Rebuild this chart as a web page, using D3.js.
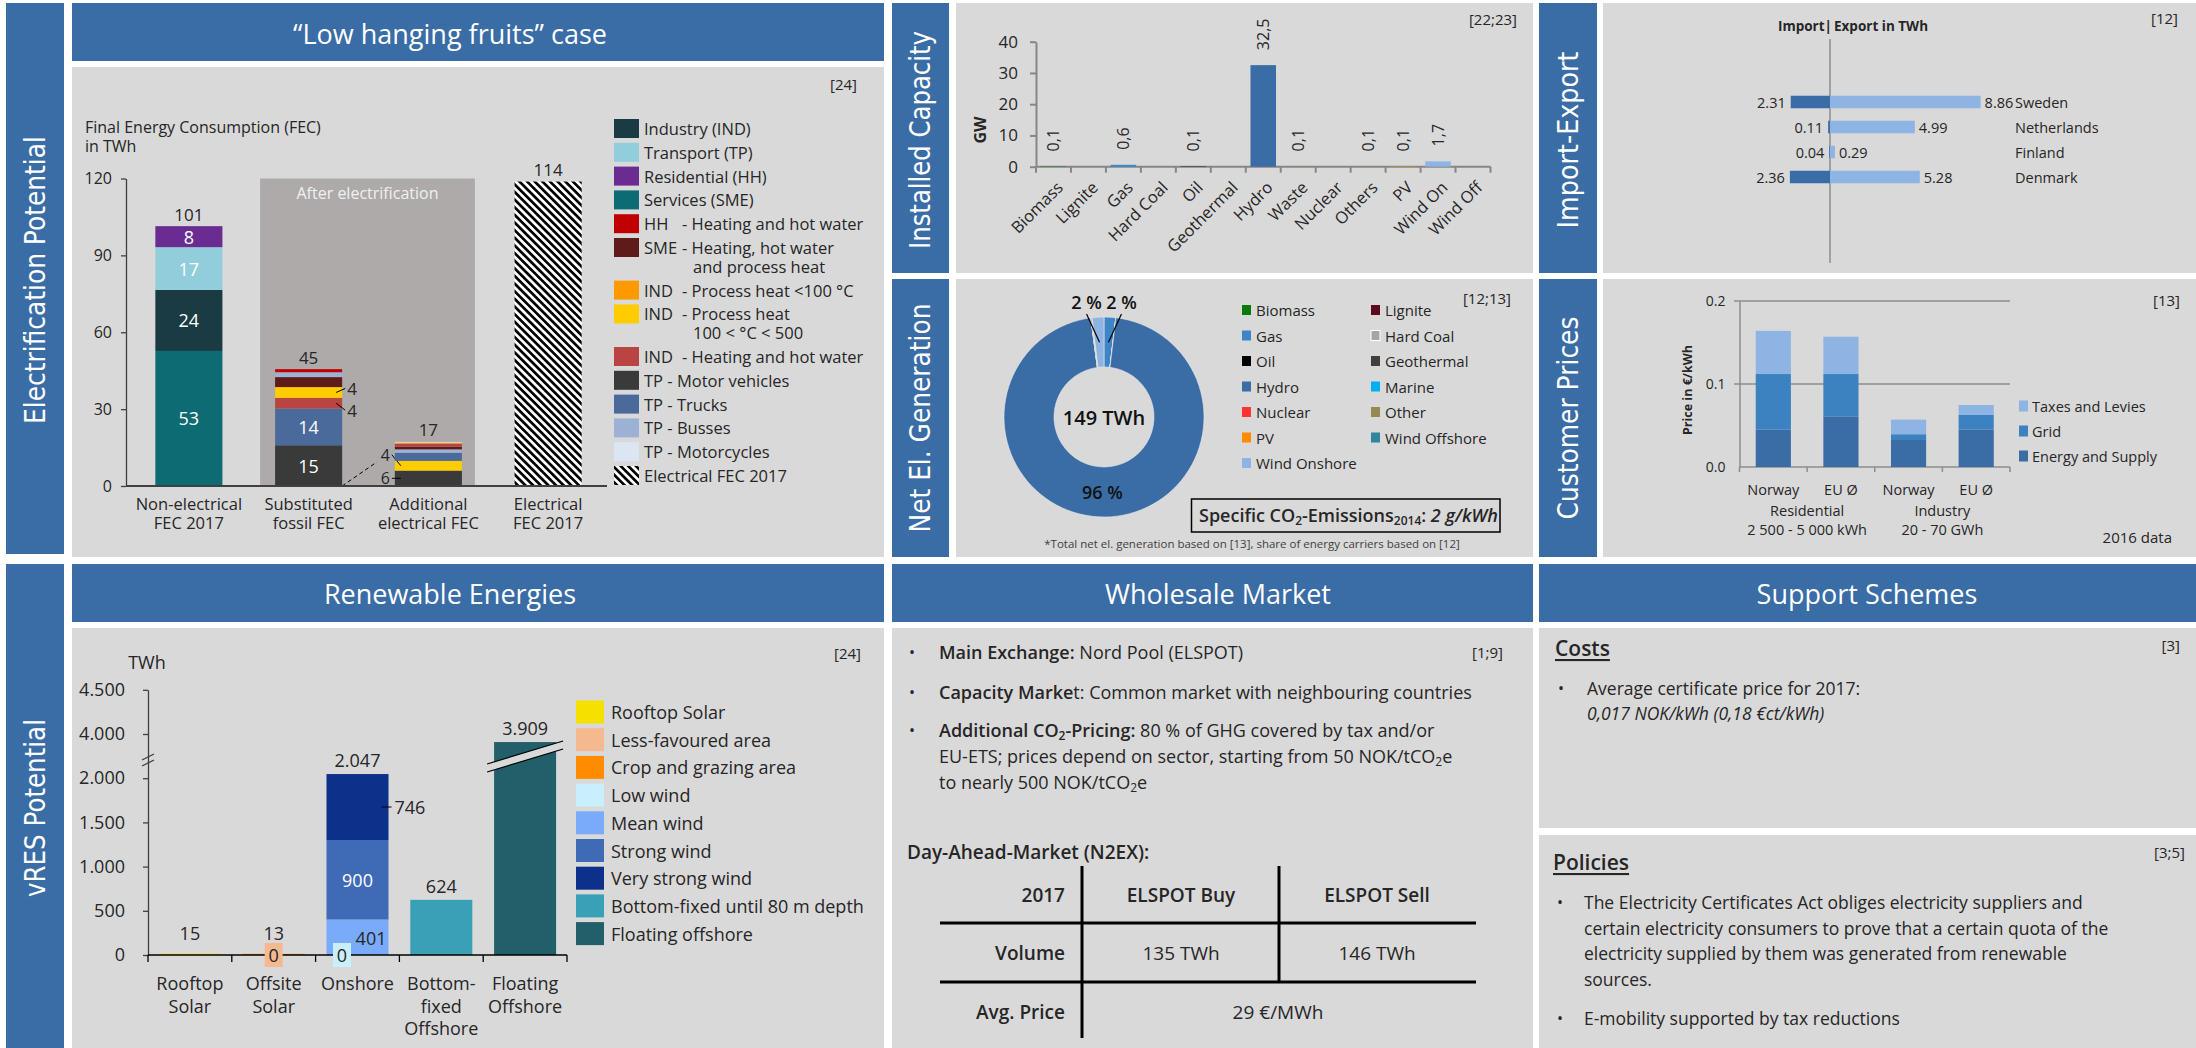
<!DOCTYPE html>
<html>
<head>
<meta charset="utf-8">
<title>Norway energy factsheet</title>
<script src="https://cdn.jsdelivr.net/npm/d3@7"></script>
<style>
  body { margin: 0; background: #ffffff; }
  svg text { font-family: "Open Sans", "Noto Sans", sans-serif; fill: #262626; }
</style>
</head>
<body>
<svg id="chart" width="2196" height="1048"></svg>
<script>
// ---------- data ----------

// Electrification potential (TWh)
const fecCategories = ["Non-electrical FEC 2017", "Substituted fossil FEC", "Additional electrical FEC", "Electrical FEC 2017"];
const fecCategoryLines = [["Non-electrical", "FEC 2017"], ["Substituted", "fossil FEC"], ["Additional", "electrical FEC"], ["Electrical", "FEC 2017"]];
const fecKeys = ["IND", "TP", "HH", "SME", "HH_heat", "SME_heat", "IND_lt100", "IND_100_500", "IND_heat", "TP_motor", "TP_trucks", "TP_busses", "TP_moto", "ELEC"];
const fecLegend = [
  ["Industry (IND)"], ["Transport (TP)"], ["Residential (HH)"], ["Services (SME)"],
  ["HH", "- Heating and hot water"], ["SME", "- Heating, hot water", "and process heat"],
  ["IND", "- Process heat <100 °C"], ["IND", "- Process heat", "100 < °C < 500"],
  ["IND", "- Heating and hot water"], ["TP - Motor vehicles"], ["TP - Trucks"], ["TP - Busses"],
  ["TP - Motorcycles"], ["Electrical FEC 2017"]
];
const fecStackKeys = [
  ["SME", "IND", "TP", "HH"],
  ["TP_motor", "TP_trucks", "IND_heat", "IND_100_500", "SME_heat", "TP_busses", "HH_heat"],
  ["TP_motor", "IND_100_500", "TP_trucks", "TP_busses", "SME_heat", "IND_heat", "IND_lt100", "TP_moto"],
  ["ELEC"]
];
const fecStackValues = [
  [52.7, 23.8, 16.7, 8.2],
  [15.9, 14.3, 4.2, 4.2, 3.9, 1.9, 1.2],
  [6.0, 3.8, 3.2, 1.3, 1.0, 1.2, 0.4, 0.3],
  [118.8]
];
const fecSegmentLabels = [["53", "24", "17", "8"], ["15", "14", "4", "4", "", "", ""], ["6", "4", "", "", "", "", "", ""], [""]];
const fecTotalLabels = ["101", "45", "17", "114"];
const fecTicks = [0, 30, 60, 90, 120];

// Installed capacity (GW)
const capCategories = ["Biomass", "Lignite", "Gas", "Hard Coal", "Oil", "Geothermal", "Hydro", "Waste", "Nuclear", "Others", "PV", "Wind On", "Wind Off"];
const capValues = [0.1, 0, 0.6, 0, 0.1, 0, 32.5, 0.1, 0, 0.1, 0.1, 1.7, 0];
const capTicks = [0, 10, 20, 30, 40];

// Import / export (TWh)
const ieCountries = ["Sweden", "Netherlands", "Finland", "Denmark"];
const ieImport = [2.31, 0.11, 0.04, 2.36];
const ieExport = [8.86, 4.99, 0.29, 5.28];

// Net electricity generation, share in %
const genCarriers = ["Biomass", "Lignite", "Gas", "Hard Coal", "Oil", "Geothermal", "Hydro", "Marine", "Nuclear", "Other", "PV", "Wind Offshore", "Wind Onshore"];
const genShares = [0, 0, 1.9, 0, 0, 0, 96.0, 0, 0, 0.2, 0, 0, 1.9];
const genTotalLabel = "149 TWh";

// Customer prices (EUR/kWh), 2016
const priceBars = ["Norway|Res", "EU Ø|Res", "Norway|Ind", "EU Ø|Ind"];
const priceBarLabels = ["Norway", "EU Ø", "Norway", "EU Ø"];
const priceGroups = [["Residential", "2 500 - 5 000 kWh"], ["Industry", "20 - 70 GWh"]];
const priceComponents = ["Energy and Supply", "Grid", "Taxes and Levies"];
const priceEnergy = [0.045, 0.061, 0.0325, 0.045];
const priceGrid = [0.067, 0.051, 0.007, 0.0177];
const priceTaxes = [0.052, 0.045, 0.0176, 0.012];
const priceTicks = [0, 0.1, 0.2];

// Renewable energy potential (TWh)
const reCategories = ["Rooftop Solar", "Offsite Solar", "Onshore", "Bottom-fixed Offshore", "Floating Offshore"];
const reCategoryLines = [["Rooftop", "Solar"], ["Offsite", "Solar"], ["Onshore"], ["Bottom-", "fixed", "Offshore"], ["Floating", "Offshore"]];
const reSeries = ["Rooftop Solar", "Less-favoured area", "Crop and grazing area", "Low wind", "Mean wind", "Strong wind", "Very strong wind", "Bottom-fixed until 80 m depth", "Floating offshore"];
const reStacks = [
  [["Rooftop Solar", 15]],
  [["Less-favoured area", 0], ["Crop and grazing area", 13]],
  [["Low wind", 0], ["Mean wind", 401], ["Strong wind", 900], ["Very strong wind", 746]],
  [["Bottom-fixed until 80 m depth", 624]],
  [["Floating offshore", 3909]]
];
const reTicks = [0, 500, 1000, 1500, 2000, 4000, 4500];

// Wholesale market
const dayAheadHeader = ["2017", "ELSPOT Buy", "ELSPOT Sell"];
const dayAheadVolume = ["Volume", "135 TWh", "146 TWh"];
const dayAheadPrice = ["Avg. Price", "29 €/MWh"];

// ---------- styles ----------
const BLUE = "#3a6ca6", PANEL = "#d9d9d9", INK = "#262626";
const fecColor = {
  IND: "#1b3b44", TP: "#92cddc", HH: "#6a2c91", SME: "#0d6b74",
  HH_heat: "#c00000", SME_heat: "#5f1a1a", IND_lt100: "#ff9900", IND_100_500: "#ffcc00",
  IND_heat: "#b84541", TP_motor: "#3a3a3a", TP_trucks: "#4a6a9c", TP_busses: "#9cb2d4",
  TP_moto: "#dce6f2", ELEC: "url(#hatch)"
};
const genColor = ["#0a7a0a", "#5c0a1e", "#3d85c6", "#a6a6a6", "#000000", "#404040", "#3a6ca6", "#00b0f0", "#ff3333", "#948a54", "#ff8c00", "#31859c", "#8db4e2"];
const capColor = ["#0a7a0a", "#5c0a1e", "#3d85c6", "#a6a6a6", "#000000", "#404040", "#3a6ca6", "#948a54", "#ff3333", "#948a54", "#ff8c00", "#8db4e2", "#31859c"];
const priceColor = ["#3a6ca6", "#3d82c0", "#8db4e2"];
const reColor = {
  "Rooftop Solar": "#f5e000", "Less-favoured area": "#f4b98f", "Crop and grazing area": "#ff8c00",
  "Low wind": "#c9effd", "Mean wind": "#7aabfa", "Strong wind": "#3f6bb6", "Very strong wind": "#0d318a",
  "Bottom-fixed until 80 m depth": "#3aa0b8", "Floating offshore": "#215f6a"
};

const de = d3.formatLocale({ decimal: ",", thousands: ".", grouping: [3], currency: ["", "€"] });
const fmtThousands = de.format(",d");
const fmtDec1 = de.format(".1f");

const svg = d3.select("#chart");

function txt(g, x, y, s, o = {}) {
  const t = g.append("text")
    .attr("x", x).attr("y", y)
    .attr("dominant-baseline", "central")
    .attr("text-anchor", o.anchor || "start")
    .style("font-size", (o.size || 16) + "px")
    .style("fill", o.fill || INK);
  if (o.weight) t.style("font-weight", o.weight);
  if (o.italic) t.style("font-style", "italic");
  if (o.rotate) t.attr("transform", `rotate(${o.rotate},${x},${y})`);
  t.text(s);
  return t;
}

// text with bold / italic / subscript runs
function rich(g, x, y, parts, size) {
  const t = g.append("text").attr("x", x).attr("y", y)
    .attr("dominant-baseline", "central").style("font-size", size + "px");
  let low = false;
  parts.forEach(p => {
    const s = t.append("tspan").text(p.t);
    if (p.b) s.style("font-weight", 600);
    if (p.i) s.style("font-style", "italic");
    if (p.sub && !low) { s.attr("dy", 5); low = true; }
    else if (!p.sub && low) { s.attr("dy", -5); low = false; }
    if (p.sub) s.style("font-size", Math.round(size * 0.65) + "px");
  });
  return t;
}

// hatch pattern for electrical FEC
const defs = svg.append("defs");
const hatch = defs.append("pattern").attr("id", "hatch")
  .attr("patternUnits", "userSpaceOnUse").attr("width", 5.4).attr("height", 5.4)
  .attr("patternTransform", "rotate(-45)");
hatch.append("rect").attr("width", 5.4).attr("height", 5.4).attr("fill", "#ffffff");
hatch.append("rect").attr("width", 2.7).attr("height", 5.4).attr("fill", "#000000");

// ---------- frame ----------
const frame = svg.append("g");
[
  [6, 3, 58, 551, BLUE], [6, 564, 58, 484, BLUE],
  [72, 3, 812, 58, BLUE], [72, 67, 812, 490, PANEL],
  [72, 564, 812, 58, BLUE], [72, 628, 812, 420, PANEL],
  [892, 3, 57, 270, BLUE], [956, 3, 577, 270, PANEL],
  [892, 279, 57, 278, BLUE], [956, 279, 577, 278, PANEL],
  [892, 564, 641, 58, BLUE], [892, 628, 641, 420, PANEL],
  [1539, 3, 58, 270, BLUE], [1603, 3, 593, 270, PANEL],
  [1539, 279, 58, 278, BLUE], [1603, 279, 593, 278, PANEL],
  [1539, 564, 657, 58, BLUE], [1539, 628, 657, 200, PANEL], [1539, 835, 657, 213, PANEL]
].forEach(([x, y, w, h, c]) => frame.append("rect").attr("x", x).attr("y", y).attr("width", w).attr("height", h).attr("fill", c));

// rotated section names, squeezed along their length to fit the sidebar
[["Electrification Potential", 35, 280, 288], ["vRES Potential", 35, 808, 178],
 ["Installed Capacity", 920, 140, 218], ["Net El. Generation", 920, 418, 229],
 ["Import-Export", 1568, 140, 177], ["Customer Prices", 1568, 418, 203]
].forEach(([s, x, y, len]) => {
  const t = frame.append("text").attr("x", 0).attr("y", 0)
    .attr("text-anchor", "middle").attr("dominant-baseline", "central")
    .style("font-family", "'DejaVu Sans', sans-serif").style("font-size", "28px").style("fill", "#ffffff")
    .text(s);
  const natural = t.node().getComputedTextLength();
  t.attr("transform", `translate(${x},${y}) rotate(-90) scale(${len / natural},1)`);
});

// header titles
[["“Low hanging fruits” case", 450, 33], ["Renewable Energies", 450, 593],
 ["Wholesale Market", 1218, 593], ["Support Schemes", 1867, 593]
].forEach(([s, x, y]) => txt(frame, x, y, s, { anchor: "middle", size: 27, fill: "#ffffff" }));

// source references
[["[24]", 857, 84], ["[22;23]", 1517, 19], ["[12]", 2178, 18], ["[12;13]", 1511, 298],
 ["[13]", 2180, 300], ["[24]", 861, 653], ["[1;9]", 1503, 652], ["[3]", 2180, 645], ["[3;5]", 2185, 852]
].forEach(([s, x, y]) => txt(frame, x, y, s, { anchor: "end", size: 15 }));

// ---------- electrification potential ----------
const gFec = svg.append("g");
const fecY = d3.scaleLinear().domain([0, 120]).range([486, 178.5]);
const fecX = d3.scaleBand().domain(fecCategories).range([129, 608]).paddingInner(0.44).paddingOuter(0.22);
const fbw = fecX.bandwidth();

txt(gFec, 85, 127, "Final Energy Consumption (FEC)", { size: 16 });
txt(gFec, 85, 146, "in TWh", { size: 16 });

const bgX0 = fecX(fecCategories[1]) - 15, bgX1 = fecX(fecCategories[2]) + fbw + 13;
gFec.append("rect").attr("x", bgX0).attr("y", fecY(120))
  .attr("width", bgX1 - bgX0).attr("height", fecY(0) - fecY(120)).attr("fill", "#aeaaaa");
txt(gFec, (bgX0 + bgX1) / 2, 193, "After electrification", { anchor: "middle", size: 16, fill: "#f0f0f0" });

// vertical nudges for labels placed beside thin segments
const outsideNudge = { "1-2": 7, "1-3": -4, "2-0": 0, "2-1": -11 };
fecCategories.forEach((cat, i) => {
  const x0 = fecX(cat);
  let acc = 0;
  fecStackKeys[i].forEach((k, j) => {
    const v = fecStackValues[i][j];
    const yTop = fecY(acc + v), yBot = fecY(acc), mid = (yTop + yBot) / 2;
    gFec.append("rect").attr("x", x0).attr("y", yTop).attr("width", fbw)
      .attr("height", yBot - yTop).attr("fill", fecColor[k]);
    const lab = fecSegmentLabels[i][j];
    if (lab) {
      if (yBot - yTop > 20) {
        txt(gFec, x0 + fbw / 2, mid, lab, { anchor: "middle", size: 18, fill: "#ffffff" });
      } else if (i === 1) {
        const ty = mid + outsideNudge[i + "-" + j];
        gFec.append("line").attr("x1", x0 + fbw - 6).attr("y1", mid).attr("x2", x0 + fbw + 3).attr("y2", ty)
          .attr("stroke", "#000").attr("stroke-width", 1);
        txt(gFec, x0 + fbw + 5, ty, lab, { size: 17 });
      } else {
        const ty = mid + outsideNudge[i + "-" + j];
        gFec.append("line").attr("x1", x0 - 3).attr("y1", ty).attr("x2", x0 + 6).attr("y2", mid)
          .attr("stroke", "#000").attr("stroke-width", 1);
        txt(gFec, x0 - 5, ty, lab, { anchor: "end", size: 16 });
      }
    }
    acc += v;
  });
  txt(gFec, x0 + fbw / 2, fecY(acc) - 12, fecTotalLabels[i], { anchor: "middle", size: 17 });
  fecCategoryLines[i].forEach((l, n) => txt(gFec, x0 + fbw / 2, 503 + n * 19, l, { anchor: "middle", size: 16.5 }));
});

// dashed connector between substituted and additional bars
gFec.append("line")
  .attr("x1", fecX(fecCategories[1]) + fbw).attr("y1", fecY(0))
  .attr("x2", fecX(fecCategories[2]) - 18).attr("y2", 462)
  .attr("stroke", "#000").attr("stroke-width", 1).attr("stroke-dasharray", "4,3");

const fecAxis = gFec.append("g").attr("transform", "translate(126,0)")
  .call(d3.axisLeft(fecY).tickValues(fecTicks).tickSize(5).tickPadding(9).tickSizeOuter(0));
fecAxis.selectAll("path,line").attr("stroke", "#404040").attr("stroke-width", 1.3);
fecAxis.selectAll("text").style("font-size", "16px").style("fill", INK).style("font-family", "'Open Sans', sans-serif");
gFec.append("line").attr("x1", 126).attr("x2", 607).attr("y1", fecY(0)).attr("y2", fecY(0))
  .attr("stroke", "#404040").attr("stroke-width", 2);

// legend
let ly = 128.5;
fecLegend.forEach((lines, i) => {
  gFec.append("rect").attr("x", 614).attr("y", ly - 9.5).attr("width", 25).attr("height", 19)
    .attr("fill", fecColor[fecKeys[i]]);
  txt(gFec, 644, ly, lines[0], { size: 16.5 });
  if (lines[1]) txt(gFec, 682, ly, lines[1], { size: 16.5 });
  if (lines[2]) txt(gFec, 693, ly + 19, lines[2], { size: 16.5 });
  ly += lines.length === 3 ? 42.6 : 23.8;
});

// ---------- installed capacity ----------
const gCap = svg.append("g");
const capY = d3.scaleLinear().domain([0, 40]).range([166.7, 41.7]);
const capX = d3.scaleBand().domain(capCategories).range([1036, 1490.5]).paddingInner(0.27).paddingOuter(0.135);
const capAxis = gCap.append("g").attr("transform", "translate(1036,0)")
  .call(d3.axisLeft(capY).tickValues(capTicks).tickSize(6).tickPadding(12).tickSizeOuter(0));
capAxis.selectAll("path,line").attr("stroke", "#868686").attr("stroke-width", 2);
capAxis.selectAll("text").style("font-size", "17px").style("fill", INK).style("font-family", "'Open Sans', sans-serif");
gCap.append("line").attr("x1", 1036).attr("x2", 1490.5).attr("y1", capY(0)).attr("y2", capY(0))
  .attr("stroke", "#868686").attr("stroke-width", 2);
d3.range(capCategories.length + 1).forEach(i => {
  const xx = 1036 + i * capX.step();
  gCap.append("line").attr("x1", xx).attr("x2", xx).attr("y1", capY(0)).attr("y2", capY(0) + 6)
    .attr("stroke", "#868686").attr("stroke-width", 2);
});
txt(gCap, 980, 130, "GW", { anchor: "middle", size: 16, weight: 700, rotate: -90 });
capCategories.forEach((c, i) => {
  const v = capValues[i], cx = capX(c) + capX.bandwidth() / 2;
  gCap.append("rect").attr("x", capX(c)).attr("y", capY(v)).attr("width", capX.bandwidth())
    .attr("height", capY(0) - capY(v)).attr("fill", capColor[i]);
  if (v > 0) txt(gCap, cx, capY(v) - 15, fmtDec1(v), { size: 16, rotate: -90 });
  txt(gCap, cx + 6, 184, c, { anchor: "end", size: 16.5, rotate: -45 });
});

// ---------- import / export ----------
const gIe = svg.append("g");
const ieX = d3.scaleLinear().domain([0, 10]).range([1830, 2000]);
const ieY = d3.scaleBand().domain(ieCountries).range([89.5, 189.5]).paddingInner(0.5).paddingOuter(0.25);
const ieCol = { imp: "#3a6ca6", exp: "#8db4e2" };
gIe.append("line").attr("x1", 1830).attr("x2", 1830).attr("y1", 39).attr("y2", 263)
  .attr("stroke", "#8c8c8c").attr("stroke-width", 1.5);
txt(gIe, 1832, 26, "Import|", { anchor: "end", size: 13.5, weight: 700 });
txt(gIe, 1834, 26, " Export in TWh", { size: 13.5, weight: 700 });
ieCountries.forEach((c, i) => {
  const y0 = ieY(c), h = ieY.bandwidth(), cy = y0 + h / 2;
  const wi = ieX(ieImport[i]) - ieX(0), we = ieX(ieExport[i]) - ieX(0);
  gIe.append("rect").attr("x", 1830 - wi).attr("y", y0).attr("width", wi).attr("height", h).attr("fill", ieCol.imp);
  gIe.append("rect").attr("x", 1830).attr("y", y0).attr("width", we).attr("height", h).attr("fill", ieCol.exp);
  txt(gIe, 1830 - wi - 5, cy, ieImport[i].toFixed(2), { anchor: "end", size: 14.5 });
  txt(gIe, 1830 + we + 4, cy, ieExport[i].toFixed(2), { size: 14.5 });
  txt(gIe, 2015, cy, c, { size: 14.5 });
});

// ---------- net electricity generation ----------
const gGen = svg.append("g");
const cx0 = 1104, cy0 = 417;
const pie = d3.pie().sort(null).value(d => d)(genShares);
const arc = d3.arc().innerRadius(50).outerRadius(100);
gGen.selectAll("path.slice").data(pie).enter().append("path")
  .attr("class", "slice")
  .attr("transform", `translate(${cx0},${cy0})`)
  .attr("d", arc)
  .attr("fill", (d, i) => genColor[i])
  .attr("stroke", "#e8e8e8").attr("stroke-width", 0.6);
pie.forEach((d, i) => {
  if (d.value < 1) return;
  const [px, py] = arc.centroid(d);
  const label = Math.round(d.value) + " %";
  if (d.value > 50) {
    txt(gGen, cx0 + px - 2, cy0 + py, label, { anchor: "middle", size: 18, weight: 600, fill: "#111" });
  } else {
    const side = px > 0 ? 1 : -1;
    const lx = cx0 + px + side * 13;
    gGen.append("line").attr("x1", cx0 + px).attr("y1", cy0 + py).attr("x2", lx).attr("y2", 314)
      .attr("stroke", "#000").attr("stroke-width", 1.2);
    txt(gGen, lx, 302, label, { anchor: "middle", size: 18, weight: 600, fill: "#111" });
  }
});
txt(gGen, cx0, cy0, genTotalLabel, { anchor: "middle", size: 20, weight: 600, fill: "#111" });
genCarriers.forEach((c, i) => {
  const col = i % 2, row = Math.floor(i / 2);
  const x = col ? 1371 : 1242, y = 310 + row * 25.5;
  gGen.append("rect").attr("x", x).attr("y", y - 5).attr("width", 9).attr("height", 10)
    .attr("fill", genColor[i]).attr("stroke", c === "Hard Coal" ? "#ffffff" : "none");
  txt(gGen, x + 14, y, c, { size: 15 });
});
gGen.append("rect").attr("x", 1191.5).attr("y", 499).attr("width", 308.5).attr("height", 33)
  .attr("fill", "none").attr("stroke", "#000").attr("stroke-width", 1.5);
rich(gGen, 1199, 515, [
  { t: "Specific CO", b: 1 }, { t: "2", b: 1, sub: 1 }, { t: "-Emissions", b: 1 }, { t: "2014", b: 1, sub: 1 },
  { t: ": ", b: 1 }, { t: "2 g/kWh", b: 1, i: 1 }
], 18);
txt(gGen, 1252, 543, "*Total net el. generation based on [13], share of energy carriers based on [12]", { anchor: "middle", size: 11.5, fill: "#404040" });

// ---------- customer prices ----------
const gPr = svg.append("g");
const prY = d3.scaleLinear().domain([0, 0.2]).range([467, 301]);
const prX = d3.scaleBand().domain(priceBars).range([1739.5, 2010]).paddingInner(0.48).paddingOuter(0.24);
[0.1, 0.2].forEach(v => gPr.append("line").attr("x1", 1734).attr("x2", 2010).attr("y1", prY(v)).attr("y2", prY(v))
  .attr("stroke", "#8c8c8c").attr("stroke-width", 1.5));
const prAxis = gPr.append("g").attr("transform", "translate(1739.5,0)")
  .call(d3.axisLeft(prY).tickValues(priceTicks).tickFormat(d3.format(".1f")).tickSize(0).tickPadding(14));
prAxis.selectAll("path").attr("stroke", "#8c8c8c").attr("stroke-width", 1.5);
prAxis.selectAll("text").style("font-size", "14px").style("fill", INK).style("font-family", "'Open Sans', sans-serif");
gPr.append("line").attr("x1", 1739.5).attr("x2", 2010).attr("y1", prY(0)).attr("y2", prY(0))
  .attr("stroke", "#8c8c8c").attr("stroke-width", 1.5);
d3.range(priceBars.length + 1).forEach(i => {
  const xx = 1739.5 + i * prX.step();
  gPr.append("line").attr("x1", xx).attr("x2", xx).attr("y1", prY(0)).attr("y2", prY(0) + 5)
    .attr("stroke", "#8c8c8c").attr("stroke-width", 1.5);
});
const priceStack = d3.stack().keys([0, 1, 2]).value((d, k) => d[k])(
  priceBars.map((b, i) => [priceEnergy[i], priceGrid[i], priceTaxes[i]]));
priceStack.forEach((layer, k) => layer.forEach((seg, i) => {
  gPr.append("rect").attr("x", prX(priceBars[i])).attr("width", prX.bandwidth())
    .attr("y", prY(seg[1])).attr("height", prY(seg[0]) - prY(seg[1])).attr("fill", priceColor[k]);
}));
priceBars.forEach((b, i) => txt(gPr, prX(b) + prX.bandwidth() / 2, 489, priceBarLabels[i], { anchor: "middle", size: 14.5 }));
priceGroups.forEach((lines, g) => {
  const gx = 1739.5 + (g * 2 + 1) * prX.step();
  lines.forEach((l, n) => txt(gPr, gx, 510 + n * 19, l, { anchor: "middle", size: 14.5 }));
});
txt(gPr, 1687, 390, "Price in €/kWh", { anchor: "middle", size: 12.5, weight: 700, rotate: -90 });
priceComponents.slice().reverse().forEach((c, n) => {
  const k = priceComponents.length - 1 - n, y = 406 + n * 25;
  gPr.append("rect").attr("x", 2019).attr("y", y - 5.5).attr("width", 9).attr("height", 11).attr("fill", priceColor[k]);
  txt(gPr, 2032, y, c, { size: 14.5 });
});
txt(gPr, 2172, 537, "2016 data", { anchor: "end", size: 15 });

// ---------- renewable energies ----------
const gRe = svg.append("g");
const K = 44.2 / 500;
const reY = d3.scaleLinear().domain([0, 2250, 3750, 4500]).range([955, 955 - 2250 * K, 955 - 2250 * K, 955 - 3000 * K]);
const reX = d3.scaleBand().domain(reCategories).range([148, 567]).paddingInner(0.26).paddingOuter(0.13);
const rbw = reX.bandwidth();
txt(gRe, 147, 662, "TWh", { anchor: "middle", size: 18 });

const zeroBoxes = [];
reCategories.forEach((cat, i) => {
  const x0 = reX(cat), cx = x0 + rbw / 2;
  let acc = 0;
  const stack = reStacks[i];
  stack.forEach(([s, v], j) => {
    const yTop = reY(acc + v), yBot = reY(acc);
    if (v > 0) {
      gRe.append("rect").attr("x", x0).attr("y", yTop).attr("width", rbw).attr("height", yBot - yTop).attr("fill", reColor[s]);
    } else {
      zeroBoxes.push([stack.length > 2 ? x0 + 15.5 : cx, s]);
    }
    if (stack.length > 2 && v > 0) {
      if (j === 1) txt(gRe, x0 + rbw - 2, yBot - 17, fmtThousands(v), { anchor: "end", size: 18 });
      else if (j === 2) txt(gRe, cx, (yTop + yBot) / 2, fmtThousands(v), { anchor: "middle", size: 18, fill: "#ffffff" });
      else if (j === 3) {
        const my = (yTop + yBot) / 2;
        gRe.append("line").attr("x1", x0 + rbw - 7).attr("x2", x0 + rbw + 3).attr("y1", my).attr("y2", my).attr("stroke", "#000");
        txt(gRe, x0 + rbw + 6, my, fmtThousands(v), { size: 18 });
      }
    }
    acc += v;
  });
  txt(gRe, cx, Math.min(reY(acc) - 14, 933), fmtThousands(acc), { anchor: "middle", size: 18 });
  reCategoryLines[i].forEach((l, n) => txt(gRe, cx, 983 + n * 22.5, l, { anchor: "middle", size: 18 }));
});

// break on the floating offshore bar
const fl = reX(reCategories[4]);
gRe.append("path")
  .attr("d", `M${fl - 7},${764} L${fl + rbw + 7},${741} L${fl + rbw + 7},${749} L${fl - 7},${772} Z`)
  .attr("fill", PANEL);
[0, 8].forEach(o => gRe.append("line").attr("x1", fl - 7).attr("y1", 764 + o).attr("x2", fl + rbw + 7).attr("y2", 741 + o)
  .attr("stroke", "#000").attr("stroke-width", 1.2));

const reAxis = gRe.append("g").attr("transform", "translate(148,0)")
  .call(d3.axisLeft(reY).tickValues(reTicks).tickFormat(fmtThousands).tickSize(5).tickPadding(18).tickSizeOuter(0));
reAxis.selectAll("path,line").attr("stroke", "#404040").attr("stroke-width", 1.3);
reAxis.selectAll("text").style("font-size", "18px").style("fill", INK).style("font-family", "'Open Sans', sans-serif");
// axis break marks
[0, 6].forEach(o => gRe.append("line").attr("x1", 142).attr("y1", 760 + o).attr("x2", 154).attr("y2", 754 + o)
  .attr("stroke", "#404040").attr("stroke-width", 1.3));
gRe.append("line").attr("x1", 148).attr("x2", 567).attr("y1", 955).attr("y2", 955).attr("stroke", "#000").attr("stroke-width", 1.5);
d3.range(reCategories.length + 1).forEach(i => {
  const xx = 148 + i * reX.step();
  gRe.append("line").attr("x1", xx).attr("x2", xx).attr("y1", 955).attr("y2", 962).attr("stroke", "#000").attr("stroke-width", 1.3);
});
// zero-valued segments shown as small labelled boxes, on top of everything
zeroBoxes.forEach(([bx, s]) => {
  gRe.append("rect").attr("x", bx - 9).attr("y", 943).attr("width", 18).attr("height", 24).attr("fill", reColor[s]);
  txt(gRe, bx, 955, "0", { anchor: "middle", size: 18 });
});
reSeries.forEach((s, i) => {
  const y = 712 + i * 27.7;
  gRe.append("rect").attr("x", 576).attr("y", y - 11.5).attr("width", 28).attr("height", 23).attr("fill", reColor[s]);
  txt(gRe, 611, y, s, { size: 18 });
});

// ---------- wholesale market ----------
const gWm = svg.append("g");
const wmLines = [
  [652, true, [{ t: "Main Exchange: ", b: 1 }, { t: "Nord Pool (ELSPOT)" }]],
  [692, true, [{ t: "Capacity Marke", b: 1 }, { t: "t: Common market with neighbouring countries" }]],
  [730, true, [{ t: "Additional CO", b: 1 }, { t: "2", b: 1, sub: 1 }, { t: "-Pricing: ", b: 1 }, { t: "80 % of GHG covered by tax and/or" }]],
  [756, false, [{ t: "EU-ETS; prices depend on sector, starting from 50 NOK/tCO" }, { t: "2", sub: 1 }, { t: "e" }]],
  [782, false, [{ t: "to nearly 500 NOK/tCO" }, { t: "2", sub: 1 }, { t: "e" }]]
];
wmLines.forEach(([y, bullet, parts]) => {
  if (bullet) txt(gWm, 909, y, "•", { size: 16 });
  rich(gWm, 939, y, parts, 18);
});
txt(gWm, 907, 852, "Day-Ahead-Market (N2EX):", { size: 19, weight: 600 });
[[940, 923, 1476, 923], [940, 982, 1476, 982], [1082, 866, 1082, 1038], [1279, 866, 1279, 982]]
  .forEach(([x1, y1, x2, y2]) => gWm.append("line").attr("x1", x1).attr("y1", y1).attr("x2", x2).attr("y2", y2)
    .attr("stroke", "#000").attr("stroke-width", 3));
txt(gWm, 1065, 895, dayAheadHeader[0], { anchor: "end", size: 19, weight: 600 });
txt(gWm, 1181, 895, dayAheadHeader[1], { anchor: "middle", size: 19, weight: 600 });
txt(gWm, 1377, 895, dayAheadHeader[2], { anchor: "middle", size: 19, weight: 600 });
txt(gWm, 1065, 953, dayAheadVolume[0], { anchor: "end", size: 19, weight: 600 });
txt(gWm, 1181, 953, dayAheadVolume[1], { anchor: "middle", size: 19 });
txt(gWm, 1377, 953, dayAheadVolume[2], { anchor: "middle", size: 19 });
txt(gWm, 1065, 1012, dayAheadPrice[0], { anchor: "end", size: 19, weight: 600 });
txt(gWm, 1278, 1012, dayAheadPrice[1], { anchor: "middle", size: 19 });

// ---------- support schemes ----------
const gSs = svg.append("g");
txt(gSs, 1555, 648, "Costs", { size: 21, weight: 600 }).style("text-decoration", "underline");
txt(gSs, 1558, 688, "•", { size: 16 });
txt(gSs, 1587, 688, "Average certificate price for 2017:", { size: 17.5 });
txt(gSs, 1587, 713, "0,017 NOK/kWh (0,18 €ct/kWh)", { size: 17.5, italic: true });
txt(gSs, 1553, 862, "Policies", { size: 21, weight: 600 }).style("text-decoration", "underline");
txt(gSs, 1557, 902, "•", { size: 16 });
["The Electricity Certificates Act obliges electricity suppliers and",
 "certain electricity consumers to prove that a certain quota of the",
 "electricity supplied by them was generated from renewable",
 "sources."].forEach((l, n) => txt(gSs, 1584, 902 + n * 25.6, l, { size: 17.5 }));
txt(gSs, 1557, 1018, "•", { size: 16 });
txt(gSs, 1584, 1018, "E-mobility supported by tax reductions", { size: 17.5 });
</script>
</body>
</html>
